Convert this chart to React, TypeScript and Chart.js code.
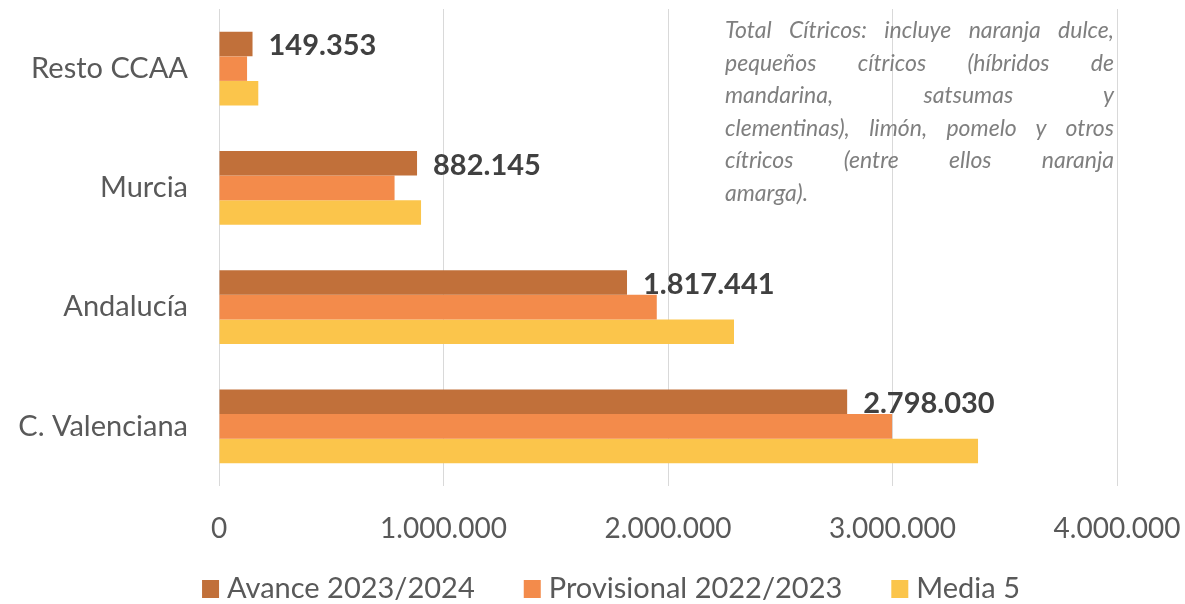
import React, { useEffect, useRef } from "react";
import { Chart, registerables } from "chart.js";

Chart.register(...registerables);

// ---- data ----
const categories = ["Resto CCAA", "Murcia", "Andalucía", "C. Valenciana"];
const seriesNames = ["Avance 2023/2024", "Provisional 2022/2023", "Media 5"];
const avance = [149353, 882145, 1817441, 2798030];
const provisional = [125000, 782000, 1950000, 2998000];
const media5 = [175000, 900000, 2294000, 3381000];
const xTickValues = [0, 1000000, 2000000, 3000000, 4000000];
const noteLines = [
  "Total Cítricos: incluye naranja dulce,",
  "pequeños cítricos (híbridos de",
  "mandarina, satsumas y",
  "clementinas), limón, pomelo y otros",
  "cítricos (entre ellos naranja",
  "amarga).",
];

const colors = ["#C1703A", "#F38B4B", "#FBC54B"];
const FONT = "Lato, 'Open Sans', sans-serif";

const fmt = (n: number) =>
  Math.round(n).toString().replace(/\B(?=(\d{3})+(?!\d))/g, ".");

const dataLabelPlugin = {
  id: "avanceLabels",
  afterDatasetsDraw(chart: any) {
    const meta = chart.getDatasetMeta(0);
    const ctx = chart.ctx;
    ctx.save();
    ctx.font = `bold 29px ${FONT}`;
    ctx.fillStyle = "#404040";
    ctx.textAlign = "left";
    ctx.textBaseline = "middle";
    meta.data.forEach((el: any, i: number) => {
      ctx.fillText(fmt(avance[i]), el.x + 16, el.y + 2);
    });
    ctx.restore();
  },
};

const legendPlugin = {
  id: "customLegend",
  afterDraw(chart: any) {
    const ctx = chart.ctx;
    ctx.save();
    ctx.font = `29px ${FONT}`;
    const boxW = 17;
    const boxH = 18;
    const gapText = 8;
    const gapItem = 49;
    const widths = chart.data.datasets.map((d: any) => ctx.measureText(d.label).width);
    const total =
      widths.reduce((a: number, b: number) => a + b, 0) +
      chart.data.datasets.length * (boxW + gapText) +
      (chart.data.datasets.length - 1) * gapItem;
    let x = 611 - total / 2;
    const baseline = 598;
    chart.data.datasets.forEach((d: any, i: number) => {
      ctx.fillStyle = d.backgroundColor;
      ctx.fillRect(x, 580, boxW, boxH);
      x += boxW + gapText;
      ctx.fillStyle = "#595959";
      ctx.textAlign = "left";
      ctx.textBaseline = "alphabetic";
      ctx.fillText(d.label, x, baseline);
      x += widths[i] + gapItem;
    });
    ctx.restore();
  },
};

export default function App() {
  const canvasRef = useRef<HTMLCanvasElement | null>(null);

  useEffect(() => {
    if (!canvasRef.current) return;
    const chart = new Chart(canvasRef.current, {
      type: "bar",
      data: {
        labels: categories,
        datasets: [
          { label: seriesNames[0], data: avance, backgroundColor: colors[0] },
          { label: seriesNames[1], data: provisional, backgroundColor: colors[1] },
          { label: seriesNames[2], data: media5, backgroundColor: colors[2] },
        ],
      },
      options: {
        indexAxis: "y",
        responsive: false,
        animation: false,
        layout: { padding: { top: 9, right: 68, left: 0, bottom: 0 } },
        datasets: {
          bar: { categoryPercentage: 0.617, barPercentage: 1, borderWidth: 0 },
        },
        plugins: {
          legend: { display: false },
          tooltip: { enabled: false },
        },
        scales: {
          x: {
            min: 0,
            max: 4000000,
            afterBuildTicks: (scale: any) => {
              scale.ticks = xTickValues.map((v) => ({ value: v }));
            },
            afterFit: (scale: any) => {
              scale.height = 118;
              scale.paddingLeft = 0;
              scale.paddingRight = 0;
            },
            grid: { color: "#D9D9D9", lineWidth: 1, drawTicks: false },
            border: { display: false },
            ticks: {
              padding: 26,
              color: "#595959",
              font: { family: FONT, size: 28 },
              callback: (v: any) => fmt(Number(v)),
              maxRotation: 0,
              autoSkip: false,
            },
          },
          y: {
            afterFit: (scale: any) => {
              scale.width = 219;
              scale.paddingTop = 0;
              scale.paddingBottom = 0;
            },
            grid: { display: false, drawTicks: false },
            border: { display: false },
            ticks: {
              padding: 31,
              color: "#595959",
              font: { family: FONT, size: 29 },
            },
          },
        },
      },
      plugins: [dataLabelPlugin, legendPlugin],
    } as any);
    return () => chart.destroy();
  }, []);

  return (
    <div
      style={{
        position: "fixed",
        left: 0,
        top: 0,
        width: 1185,
        height: 604,
        background: "#FFFFFF",
        overflow: "hidden",
      }}
    >
      <canvas ref={canvasRef} width={1185} height={604} style={{ display: "block" }} />
      <div
        style={{
          position: "absolute",
          left: 725,
          top: 13,
          width: 389,
          fontFamily: FONT,
          fontStyle: "italic",
          fontSize: 23,
          lineHeight: "32.5px",
          color: "#7F7F7F",
        }}
      >
        {noteLines.map((line, i) => (
          <div
            key={i}
            style={{
              textAlign: "justify",
              textAlignLast: i < noteLines.length - 1 ? "justify" : "left",
              whiteSpace: "nowrap",
            }}
          >
            {line}
          </div>
        ))}
      </div>
    </div>
  );
}
